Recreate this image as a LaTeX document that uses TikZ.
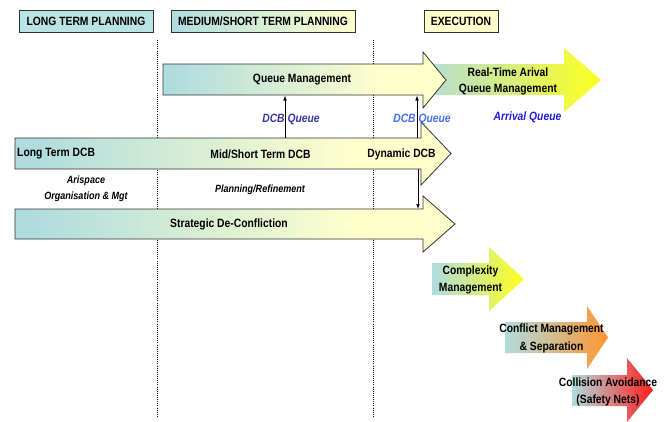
\documentclass[tikz,border=0pt]{standalone}
\usepackage{fontspec}
\setmainfont{Liberation Sans}[FakeStretch=0.86]
\usetikzlibrary{arrows.meta}
\definecolor{tealc}{RGB}{176,220,222}
\definecolor{tealh}{RGB}{186,228,228}
\definecolor{paley}{RGB}{255,255,204}
\definecolor{brighty}{RGB}{255,255,30}
\definecolor{orangec}{RGB}{255,150,50}
\definecolor{redc}{RGB}{255,30,30}
\definecolor{linec}{RGB}{50,50,50}
\definecolor{dcbone}{RGB}{55,55,165}
\definecolor{dcbtwo}{RGB}{70,110,240}
\definecolor{arrq}{RGB}{30,30,225}
\pgfdeclarehorizontalshading{bigshade}{100bp}{color(0bp)=(tealc); color(27bp)=(tealc); color(64bp)=(paley); color(100bp)=(paley)}
\pgfdeclarehorizontalshading{hdrshade}{100bp}{color(0bp)=(tealc); color(25bp)=(tealc); color(75bp)=(paley); color(100bp)=(paley)}
\tikzset{
  txt/.style={font=\fontsize{12}{14}\selectfont\bfseries, inner sep=0pt, align=center},
  itxt/.style={font=\fontsize{10.5}{16}\selectfont\bfseries\itshape, inner sep=0pt, align=center},
  hdr/.style={txt, draw=linec, line width=0.9pt},
  bigarr/.style={shading=bigshade, draw=linec, line width=0.8pt},
  dotline/.style={draw=black!90, line width=0.9pt, dash pattern=on 1pt off 1.1pt},
  conn/.style={draw=black, line width=0.7pt, -{Latex[length=5pt,width=3.6pt]}},
}
\begin{document}
\begin{tikzpicture}[x=1pt,y=-1pt]
\useasboundingbox (0,0) rectangle (665,421);
% phase separators
\coordinate (sepAtop) at (157,40);
\coordinate (sepAbot) at (157,418);
\coordinate (sepBtop) at (373,40);
\coordinate (sepBbot) at (373,418);
\draw[dotline] (sepAtop) -- (sepAbot);
\draw[dotline] (sepBtop) -- (sepBbot);
% headers
\node[hdr, fill=tealh, minimum width=134, minimum height=21.5] (hlong) at (86,21.5) {LONG TERM PLANNING};
\node[hdr, shading=hdrshade, minimum width=184, minimum height=22] (hmed) at (263,21) {MEDIUM/SHORT TERM PLANNING};
\node[hdr, fill=paley, minimum width=74, minimum height=22.5] (hexe) at (461,21.5) {EXECUTION};
% real-time arrival arrow (no border)
\shade[left color=tealc, right color=brighty] (418,64) -- (564,64) -- (564,48) -- (601,80) -- (564,112) -- (564,95) -- (418,95) -- cycle;
% queue management arrow
\shadedraw[bigarr] (163,64) -- (423,64) -- (423,52) -- (446,80) -- (423,108) -- (423,95) -- (163,95) -- cycle;
% DCB arrow
\shadedraw[bigarr] (15,138) -- (421,138) -- (421,122) -- (451,153.5) -- (421,185) -- (421,169) -- (15,169) -- cycle;
% strategic de-confliction arrow
\shadedraw[bigarr] (15,209) -- (423,209) -- (423,196) -- (455,224) -- (423,252) -- (423,239) -- (15,239) -- cycle;
% complexity arrow
\shade[left color=tealc, right color=brighty] (432,263) -- (489,263) -- (489,247) -- (524,279) -- (489,311) -- (489,295) -- (432,295) -- cycle;
% conflict arrow
\shade[left color=tealc, right color=orangec] (505,322) -- (587,322) -- (587,306) -- (608,337.5) -- (587,369) -- (587,353) -- (505,353) -- cycle;
% collision arrow
\shade[left color=tealc, right color=redc] (572,375) -- (627,375) -- (627,358) -- (653,390) -- (627,422) -- (627,406) -- (572,406) -- cycle;
% connector end points on arrow edges
\coordinate (qmbotA) at (285,95.5);
\coordinate (dcbtopA) at (285,138);
\coordinate (qmbotB) at (417,95.5);
\coordinate (dcbtopB) at (417,138);
\coordinate (dcbbot) at (418,169);
\coordinate (sdctop) at (418,209);
\draw[conn] (dcbtopA) -- (qmbotA);
\draw[conn] (dcbtopB) -- (qmbotB);
\draw[conn] (dcbbot) -- (sdctop);
% texts
\node[txt] (qm) at (302,80) {Queue Management};
\node[txt] (rta) at (508,72) {Real-Time Arival};
\node[txt] (rtq) at (508,90) {Queue Management};
\node[txt, text=dcbone, font=\fontsize{12}{14}\selectfont\bfseries\itshape] (dq1) at (291,119) {DCB Queue};
\node[txt, text=dcbtwo, font=\fontsize{12}{14}\selectfont\bfseries\itshape] (dq2) at (422,119) {DCB Queue};
\node[txt, text=arrq, font=\fontsize{12}{14}\selectfont\bfseries\itshape] (aq) at (527.5,117) {Arrival Queue};
\node[txt, anchor=west] (ltd) at (17,154) {Long Term DCB};
\node[txt] (msd) at (260.5,154) {Mid/Short Term DCB};
\node[txt] (dyd) at (401.5,154) {Dynamic DCB};
\node[itxt] (ari) at (86,181) {Arispace};
\node[itxt] (org) at (86,197) {Organisation \& Mgt};
\node[itxt] (plr) at (260,190) {Planning/Refinement};
\node[txt] (sdc) at (229,224) {Strategic De-Confliction};
\node[txt] (cx1) at (470.5,271) {Complexity};
\node[txt] (cx2) at (470.5,289) {Management};
\node[txt] (cf1) at (551.5,329.5) {Conflict Management};
\node[txt] (cf2) at (551.5,347.5) {\& Separation};
\node[txt] (co1) at (608,382.5) {Collision Avoidance};
\node[txt] (co2) at (608,400) {(Safety Nets)};
\end{tikzpicture}
\end{document}
